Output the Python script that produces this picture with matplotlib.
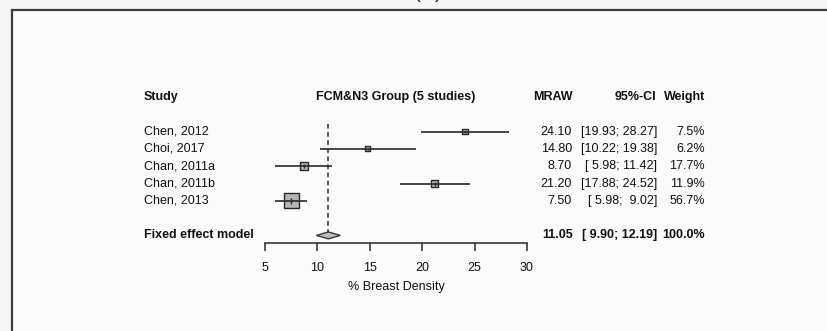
import matplotlib
matplotlib.use("Agg")
import matplotlib.pyplot as plt
from matplotlib.patches import Rectangle
from matplotlib.transforms import blended_transform_factory
import numpy as np

# ---- data ----
studies = ["Chen, 2012", "Choi, 2017", "Chan, 2011a", "Chan, 2011b", "Chen, 2013"]
mraw = [24.10, 14.80, 8.70, 21.20, 7.50]
ci_low = [19.93, 10.22, 5.98, 17.88, 5.98]
ci_high = [28.27, 19.38, 11.42, 24.52, 9.02]
weights = [7.5, 6.2, 17.7, 11.9, 56.7]
fixed_est = 11.05
fixed_low = 9.90
fixed_high = 12.19
fixed_weight = 100.0
xticks = [5, 10, 15, 20, 25, 30]

W, H = 828, 331
plt.rcParams['font.family'] = ['Liberation Sans', 'DejaVu Sans']
fig = plt.figure(figsize=(W / 100, H / 100), dpi=100)
fig.patch.set_facecolor('#f6f6f6')

# background axes with outer frame
bg = fig.add_axes([0, 0, 1, 1], zorder=-5)
bg.set_axis_off()
bg.set_xlim(0, W)
bg.set_ylim(H, 0)
bg.add_patch(Rectangle((12, 10), W, H, facecolor='#fbfbfb',
                       edgecolor='#3c3c3c', linewidth=1.6, zorder=0))
fig.text(428 / W, 1 + 2.5 / H, "(C)", ha='center', va='baseline', fontsize=15, color='#222')

# axes geometry (pixels)
x_left, x_right = 265, 527
y_top, y_axis = 90, 243.3
row0, dy = 97.0, 17.3
ax = fig.add_axes([x_left / W, 1 - y_axis / H, (x_right - x_left) / W, (y_axis - y_top) / H])
ax.set_facecolor('none')
ax.set_xlim(5, 30)
ax.set_ylim((y_axis - row0) / dy, (y_top - row0) / dy)
for s in ['top', 'left', 'right']:
    ax.spines[s].set_visible(False)
ax.spines['bottom'].set_bounds(5, 30)
ax.spines['bottom'].set_color('#2a2a2a')
ax.spines['bottom'].set_linewidth(1.1)
ax.set_yticks([])
ax.set_xticks(xticks)
ax.tick_params(axis='x', length=5.8, width=1.1, color='#2a2a2a', pad=7.5, labelsize=9, labelcolor='#111')
ax.set_xlabel("% Breast Density", fontsize=9, color='#111', labelpad=5.5)

rows = np.arange(2, 2 + len(studies))
fixed_row = 8

# reference dashed line
ax.plot([fixed_est, fixed_est], [1.55, fixed_row - 0.22], color='#2a2a2a', lw=1.1,
        linestyle=(0, (3, 2.3)), zorder=1)

# squares
k = 15 / np.sqrt(max(weights))
sides_pt = [k * np.sqrt(w) * 0.72 for w in weights]
ax.scatter(mraw, rows, s=[sp ** 2 for sp in sides_pt], marker='s', facecolor='#b4b4b4',
           edgecolor='#2a2a2a', linewidths=1.0, zorder=2)
for yi, lo, hi in zip(rows, ci_low, ci_high):
    ax.plot([lo, hi], [yi, yi], color='#2a2a2a', lw=1.2, zorder=3, solid_capstyle='butt')
for xi, yi, sp in zip(mraw, rows, sides_pt):
    ax.plot([xi], [yi], marker='|', markersize=sp * 0.45, color='#2a2a2a', mew=1.0, zorder=4)

# diamond
h = 0.2
ax.fill([fixed_low, fixed_est, fixed_high, fixed_est], [fixed_row, fixed_row - h, fixed_row, fixed_row + h],
        facecolor='#bdbdbd', edgecolor='#3a3a3a', linewidth=1.0, zorder=3)

# text columns
tr = blended_transform_factory(fig.transFigure, ax.transData)
fs = 9
tc = '#111111'
def t(xpx, row, s, ha='left', bold=False):
    ax.text(xpx / W, row, s, transform=tr, ha=ha, va='center', fontsize=fs, color=tc,
            fontweight='bold' if bold else 'normal', clip_on=False)

t(144, 0, "Study", bold=True)
t((x_left + x_right) / 2, 0, "FCM&N3 Group (5 studies)", ha='center', bold=True)
t(573, 0, "MRAW", ha='right', bold=True)
t(656, 0, "95%-CI", ha='right', bold=True)
t(705, 0, "Weight", ha='right', bold=True)

def fmt_ci(lo, hi):
    return "[{:>5}; {:>5}]".format("{:.2f}".format(lo), "{:.2f}".format(hi))

for r, name, m, lo, hi, w in zip(rows, studies, mraw, ci_low, ci_high, weights):
    t(144, r, name)
    t(572, r, "{:.2f}".format(m), ha='right')
    t(657, r, fmt_ci(lo, hi), ha='right')
    t(705, r, "{:.1f}%".format(w), ha='right')

t(144, fixed_row, "Fixed effect model", bold=True)
t(573, fixed_row, "{:.2f}".format(fixed_est), ha='right', bold=True)
t(657, fixed_row, fmt_ci(fixed_low, fixed_high), ha='right', bold=True)
t(705, fixed_row, "{:.1f}%".format(fixed_weight), ha='right', bold=True)

fig.savefig("out.png", dpi=100, facecolor=fig.get_facecolor())
